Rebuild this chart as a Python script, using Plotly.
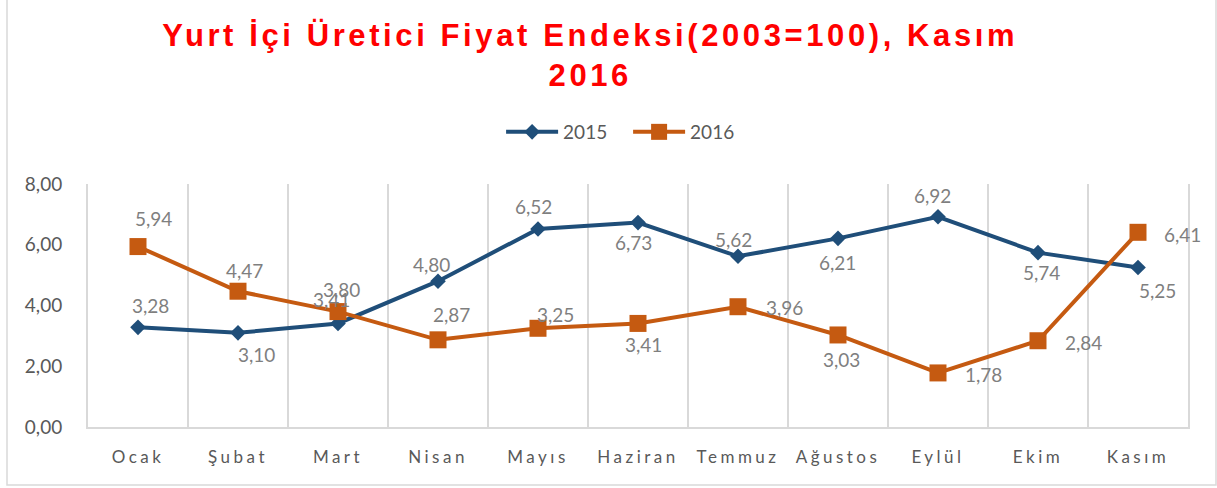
import plotly.graph_objects as go

months = ["Ocak", "Şubat", "Mart", "Nisan", "Mayıs", "Haziran",
          "Temmuz", "Ağustos", "Eylül", "Ekim", "Kasım"]
values_2015 = [3.28, 3.10, 3.41, 4.80, 6.52, 6.73, 5.62, 6.21, 6.92, 5.74, 5.25]
values_2016 = [5.94, 4.47, 3.80, 2.87, 3.25, 3.41, 3.96, 3.03, 1.78, 2.84, 6.41]
y_ticks = [0, 2, 4, 6, 8]

# label offsets in pixels (dx right, dy down) from each marker
offsets_2015 = [(12, -22), (18, 22), (-7, -24), (-7, -17), (-5, -22), (-5, 20),
                (-5, -17), (-1, 24), (-6, -21), (3, 20), (19, 23)]
offsets_2016 = [(15, -28), (6, -21), (3, -22), (13, -25), (17, -14), (5, 21),
                (46, 1), (3, 25), (45, 2), (45, 2), (44, 2)]

BLUE = "#1F4E79"
ORANGE = "#C55A11"
GRID = "#D9D9D9"


def tr(v):
    return f"{v:.2f}".replace(".", ",")


def spaced(s, px):
    return f'<span style="letter-spacing:{px}px">{s}</span>'


fig = go.Figure()

fig.add_trace(
    go.Scatter(
        x=months,
        y=values_2015,
        mode="lines+markers",
        name="2015",
        line=dict(color=BLUE, width=4),
        marker=dict(symbol="diamond", size=12, color=BLUE),
    )
)

fig.add_trace(
    go.Scatter(
        x=months,
        y=values_2016,
        mode="lines+markers",
        name="2016",
        line=dict(color=ORANGE, width=4),
        marker=dict(symbol="square", size=17, color=ORANGE),
    )
)

# data labels
annotations = []
for vals, offs in ((values_2015, offsets_2015), (values_2016, offsets_2016)):
    for m, v, (dx, dy) in zip(months, vals, offs):
        annotations.append(
            dict(
                x=m, y=v, text=tr(v), showarrow=False,
                xanchor="center", yanchor="middle",
                xshift=dx, yshift=-dy,
                font=dict(family="Lato", size=19, color="#7F7F7F"),
            )
        )

fig.update_layout(
    width=1217,
    height=488,
    margin=dict(l=88, r=29, t=184, b=61),
    paper_bgcolor="white",
    plot_bgcolor="white",
    title=dict(
        text=spaced("Yurt İçi Üretici Fiyat Endeksi(2003=100), Kasım<br>2016", 3.6),
        font=dict(family="'Liberation Sans', Arial, sans-serif",
                  size=31, color="#FF0000", weight="bold"),
        x=0.485, xanchor="center",
        y=1 - 46 / 488, yanchor="top",
    ),
    legend=dict(
        orientation="h",
        x=0.491, xanchor="center",
        y=1 - 132 / 488, yanchor="middle",
        yref="container",
        itemwidth=52,
        entrywidth=60,
        font=dict(family="Lato", size=19, color="#595959"),
    ),
    annotations=annotations,
    shapes=[
        dict(
            type="rect", xref="paper", yref="paper",
            x0=(7 - 88) / 1100, x1=(1216 - 88) / 1100,
            y0=(427 - 485) / 243, y1=(427 + 5) / 243,
            line=dict(color=GRID, width=1.5),
        )
    ],
    showlegend=True,
)

fig.update_xaxes(
    type="category",
    range=[-0.5, len(months) - 0.5],
    tickson="boundaries",
    ticks="",
    showgrid=True,
    gridcolor=GRID,
    gridwidth=2,
    showline=True,
    linecolor=GRID,
    linewidth=2,
    tickvals=months,
    ticktext=[spaced(m, 3.5) for m in months],
    tickfont=dict(family="Lato", size=17, color="#595959"),
    ticklabelstandoff=14,
)

fig.update_yaxes(
    range=[0, 8],
    tickvals=y_ticks,
    ticktext=[tr(v) for v in y_ticks],
    showgrid=False,
    zeroline=False,
    showline=True,
    mirror=True,
    linecolor=GRID,
    linewidth=2,
    tickfont=dict(family="Lato", size=19, color="#595959"),
    ticklabelstandoff=20,
)

fig.write_html(
    "out.html",
    config={"displayModeBar": False},
    post_script="document.body.style.margin='0';",
)
